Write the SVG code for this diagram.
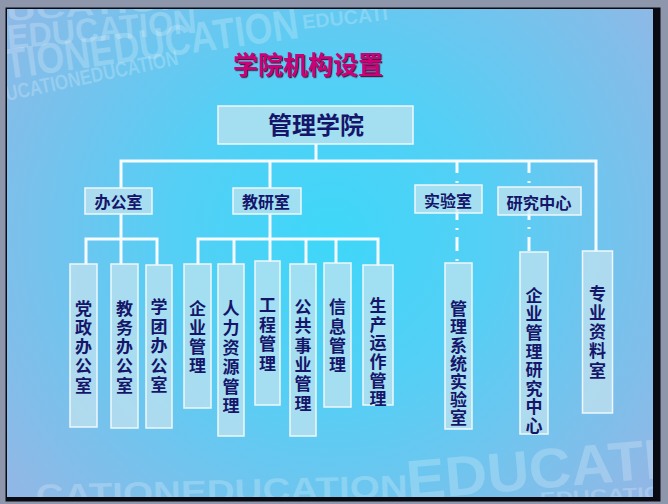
<svg xmlns="http://www.w3.org/2000/svg" width="668" height="504" viewBox="0 0 668 504">
<defs>
<radialGradient id="bg" cx="330" cy="235" r="400" gradientUnits="userSpaceOnUse">
<stop offset="0" stop-color="#3ed7f9"/>
<stop offset="0.4" stop-color="#55cff5"/>
<stop offset="1" stop-color="#90b8e6"/>
</radialGradient>
<clipPath id="clip"><rect x="7" y="9" width="646" height="488"/></clipPath>
<filter id="shadow" x="-10%" y="-20%" width="120%" height="150%">
<feDropShadow dx="1.2" dy="1.2" stdDeviation="0.3" flood-color="#3a0a30" flood-opacity="0.9"/>
</filter>
<style>
.box{fill:#c8e4f0;fill-opacity:0.7;stroke:#eef8fc;stroke-width:1.5}
.lbl{font-family:"Noto Sans CJK SC","Noto Sans CJK TC",sans-serif;font-weight:bold;fill:#15166a;text-anchor:middle}
.vt{font-family:"Noto Sans CJK SC","Noto Sans CJK TC",sans-serif;font-weight:bold;fill:#15166a;writing-mode:vertical-rl;text-anchor:start;font-size:17px}
.wire{stroke:#f5fbff;stroke-width:3;fill:none;stroke-linejoin:miter}
.wm{font-family:"Liberation Sans",Arial,sans-serif;font-weight:bold;fill:#ffffff;fill-opacity:0.22}
</style>
</defs>
<g id="frame">
<rect x="0" y="0" width="668" height="504" fill="#8d96aa"/>
<rect x="5.5" y="7.5" width="655" height="494" fill="#0a0a12"/>
<rect x="7" y="9" width="646" height="488" fill="url(#bg)"/>
</g>
<g id="watermark" clip-path="url(#clip)">
<text class="wm" font-size="26" textLength="183" lengthAdjust="spacingAndGlyphs" transform="translate(7,21) rotate(-4)">UCATION</text>
<text class="wm" font-size="34" textLength="190" lengthAdjust="spacingAndGlyphs" transform="translate(8,49) rotate(-5)">EDUCATION</text>
<text class="wm" font-size="43" textLength="296" lengthAdjust="spacingAndGlyphs" transform="translate(7,79) rotate(-8)">TIONEDUCATION</text>
<text class="wm" font-size="20" textLength="86" lengthAdjust="spacingAndGlyphs" transform="translate(303,29) rotate(-6)">EDUCATI</text>
<text class="wm" font-size="21" textLength="176" lengthAdjust="spacingAndGlyphs" transform="translate(7,101) rotate(-12)">UCATIONEDUCATION</text>
<text class="wm" font-size="32" textLength="372" lengthAdjust="spacingAndGlyphs" transform="translate(36,507) rotate(-1.5)">CATIONEDUCATION</text>
<text class="wm" font-size="56" textLength="300" lengthAdjust="spacingAndGlyphs" transform="translate(408,500) rotate(-5)">EDUCATIO</text>
<text class="wm" font-size="18" textLength="140" lengthAdjust="spacingAndGlyphs" transform="translate(540,505) rotate(-3)">EDUCATION</text>
</g>
<text id="title" x="308" y="73.5" font-family="'Noto Sans CJK SC',sans-serif" font-weight="bold" font-size="25" fill="#cc0077" text-anchor="middle" filter="url(#shadow)">学院机构设置</text>
<g id="connectors">
<path class="wire" d="M316,144 V161"/>
<path class="wire" d="M121,188 V161 H596 V252"/>
<path class="wire" d="M270,161 V188"/>
<path class="wire" d="M121,214 V239"/>
<path class="wire" d="M86,265 V239 H157 V265"/>
<path class="wire" d="M121,239 V265"/>
<path class="wire" d="M270,214 V239"/>
<path class="wire" d="M198,265 V239 H378 V266"/>
<path class="wire" d="M234,239 V265"/>
<path class="wire" d="M270,239 V262"/>
<path class="wire" d="M306,239 V265"/>
<path class="wire" d="M336,239 V263"/>
<path class="wire" d="M457,161 V186" stroke-dasharray="12 8 2 8"/>
<path class="wire" d="M457,206 V263" stroke-dasharray="14 8 2 7"/>
<path class="wire" d="M529,161 V188" stroke-dasharray="12 8 2 8"/>
<path class="wire" d="M529,206 V252" stroke-dasharray="14 7 2 8"/>
</g>
<g id="n-guanlixueyuan">
<rect class="box" x="218" y="106" width="195" height="38"/>
<text class="lbl" x="316" y="134" font-size="24">管理学院</text>
</g>
<g id="n-bangongshi">
<rect class="box" x="85" y="188" width="67" height="26"/>
<text class="lbl" x="118.5" y="207.5" font-size="16">办公室</text>
</g>
<g id="n-jiaoyanshi">
<rect class="box" x="233" y="188" width="68" height="26"/>
<text class="lbl" x="266" y="207.5" font-size="16">教研室</text>
</g>
<g id="n-shiyanshi">
<rect class="box" x="415" y="185" width="67" height="28"/>
<text class="lbl" x="448" y="206.5" font-size="16">实验室</text>
</g>
<g id="n-yanjiuzhongxin">
<rect class="box" x="498" y="187" width="83" height="28"/>
<text class="lbl" x="539" y="208.5" font-size="16.3">研究中心</text>
</g>
<g id="n-dangzheng">
<rect class="box" x="70" y="264" width="27" height="163"/>
<text class="vt" x="83.5" y="299.8" letter-spacing="2.2">党政办公室</text>
</g>
<g id="n-jiaowu">
<rect class="box" x="111" y="264" width="27" height="164"/>
<text class="vt" x="124.5" y="299.8" letter-spacing="2.2">教务办公室</text>
</g>
<g id="n-xuetuan">
<rect class="box" x="146" y="265" width="26" height="163"/>
<text class="vt" x="159" y="298.2" letter-spacing="2.5">学团办公室</text>
</g>
<g id="n-qiyeguanli">
<rect class="box" x="184" y="264" width="27" height="144"/>
<text class="vt" x="197.5" y="299.8" letter-spacing="2">企业管理</text>
</g>
<g id="n-renliziyuan">
<rect class="box" x="218" y="264" width="26" height="172"/>
<text class="vt" x="231" y="299.8" letter-spacing="2.5">人力资源管理</text>
</g>
<g id="n-gongcheng">
<rect class="box" x="255" y="261" width="25" height="144"/>
<text class="vt" x="267.5" y="296.5" letter-spacing="2.4">工程管理</text>
</g>
<g id="n-gonggongshiye">
<rect class="box" x="290" y="264" width="26" height="172"/>
<text class="vt" x="303" y="298.2" letter-spacing="2.3">公共事业管理</text>
</g>
<g id="n-xinxi">
<rect class="box" x="324" y="263" width="27" height="144"/>
<text class="vt" x="337.5" y="298.2" letter-spacing="2.4">信息管理</text>
</g>
<g id="n-shengchan">
<rect class="box" x="363" y="265" width="30" height="140"/>
<text class="vt" x="378" y="297" font-size="16" letter-spacing="1.7">生产运作管理</text>
</g>
<g id="n-xitongshiyan">
<rect class="box" x="445" y="263" width="27" height="166"/>
<text class="vt" x="458.5" y="300.3" font-size="16" letter-spacing="1.2">管理系统实验室</text>
</g>
<g id="n-yanjiuzx">
<rect class="box" x="520" y="252" width="28" height="182"/>
<text class="vt" x="534" y="286.8" font-size="16.5" letter-spacing="1.6">企业管理研究中心</text>
</g>
<g id="n-zhuanyeziliao">
<rect class="box" x="582.5" y="251" width="30" height="162"/>
<text class="vt" x="597.5" y="284.8" letter-spacing="2.2">专业资料室</text>
</g>
</svg>
